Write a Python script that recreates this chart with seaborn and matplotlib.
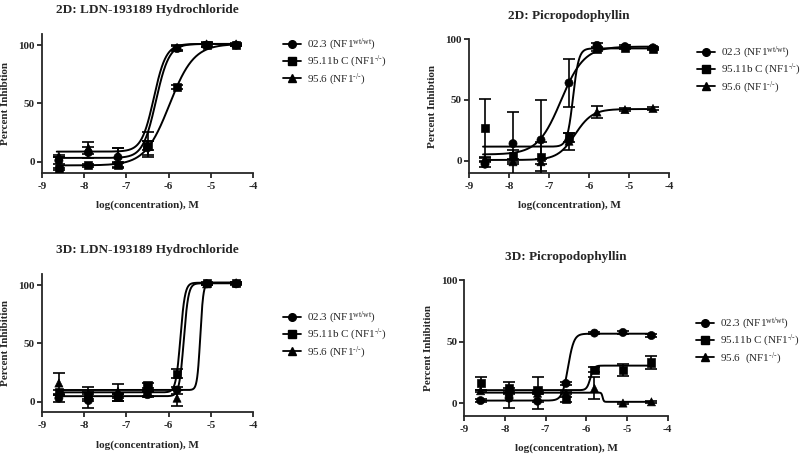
import numpy as np
import pandas as pd
import matplotlib
matplotlib.use("Agg")
import matplotlib.pyplot as plt
from matplotlib.lines import Line2D
import seaborn as sns

# ---------------- data ----------------
log_conc = [-8.6, -7.9, -7.2, -6.5, -5.8, -5.1, -4.4]
series_names = ["02.3", "95.11b C", "95.6"]

# Panel A: 2D LDN-193189 Hydrochloride
a_circle = [1, 8, 4, 12, 97, 100, 100]
a_circle_err = [3, 5, 8, 6, 2, 2, 1]
a_square = [-6, -3, -3, 14, 64, 100, 100]
a_square_err = [1, 1, 2, 4, 2, 2, 1]
a_triangle = [5, 12, 6, 15, 98, 101, 101]
a_triangle_err = [1, 5, 6, 11, 2, 2, 1]
# fit parameters: bottom, top, logEC50, hill
a_fit_circle = [3.4, 101, -6.3, 2.8]
a_fit_square = [-3, 101, -5.98, 1.5]
a_fit_triangle = [8.8, 101, -6.35, 3.0]

# Panel B: 2D Picropodophyllin
b_circle = [-3, 14, 17, 64, 95, 94, 93]
b_circle_err = [2, 26, 33, 20, 2, 1, 1]
b_square = [27, 4, 3, 19, 92, 93, 92]
b_square_err = [24, 5, 12, 4, 2, 1, 1]
b_triangle = [1, -1, -1, 16, 40, 42, 43]
b_triangle_err = [1, 2, 2, 7, 5, 1, 1]
b_fit_circle = [5, 94, -6.7, 1.5]
b_fit_square = [11.5, 92.5, -6.4, 6]
b_fit_triangle = [0.5, 42.5, -6.35, 2.0]

# Panel C: 3D LDN-193189 Hydrochloride
c_circle = [3, 1, 4, 6, 10, 101, 101]
c_circle_err = [3, 6, 3, 2, 3, 1, 1]
c_square = [8, 5, 4, 14, 24, 102, 102]
c_square_err = [2, 3, 3, 2, 4, 1, 1]
c_triangle = [16, 7, 9, 7, 3, 101, 102]
c_triangle_err = [9, 6, 6, 2, 7, 1, 1]
c_fit_circle = [4.7, 101.5, -5.64, 8]
c_fit_square = [8, 102, -5.72, 8]
c_fit_triangle = [10, 102, -5.25, 12]

# Panel D: 3D Picropodophyllin
d_circle = [2, 4, 1.5, 16, 57, 57.5, 55]
d_circle_err = [1, 8, 6.5, 1, 1, 1, 1]
d_square = [16, 12, 11, 3, 27, 27, 33]
d_square_err = [5, 5, 10, 2, 2, 5, 5]
d_triangle = [10, 9, 8, 8, 12, 0, 1]
d_triangle_err = [1, 1, 1, 1, 9, 1, 1]
d_fit_circle = [2, 56.5, -6.45, 6]
d_fit_square = [10.5, 30.5, -5.9, 10]
d_fit_triangle = [8.5, 1, -5.6, 30]

titles = ["2D: LDN-193189 Hydrochloride", "2D: Picropodophyllin",
          "3D: LDN-193189 Hydrochloride", "3D: Picropodophyllin"]
ylabels = ["Percent Inhibtion", "Percent Inhibtion",
           "Percent Inhibition", "Percent Inhibition"]
xlabel = "log(concentration), M"
x_ticks = [-9, -8, -7, -6, -5, -4]
y_ticks = [0, 50, 100]

# ---------------- style ----------------
sns.set_theme(style="ticks")
plt.rcParams["font.family"] = ["Liberation Serif", "DejaVu Serif"]
plt.rcParams["mathtext.fontset"] = "custom"
plt.rcParams["mathtext.rm"] = "Liberation Serif"
plt.rcParams["mathtext.it"] = "Liberation Serif:italic"
plt.rcParams["mathtext.bf"] = "Liberation Serif:bold"
plt.rcParams["axes.linewidth"] = 1.3
plt.rcParams["xtick.major.width"] = 1.3
plt.rcParams["ytick.major.width"] = 1.3
plt.rcParams["xtick.major.size"] = 3.5
plt.rcParams["ytick.major.size"] = 3.5

W, H = 800, 454
fig = plt.figure(figsize=(8, 4.54), dpi=100)


def px_axes(x0, x1, ytop, ybot):
    return fig.add_axes([x0 / W, 1 - ybot / H, (x1 - x0) / W, (ybot - ytop) / H])


def logistic(x, p):
    b, t, ec, h = p
    return b + (t - b) / (1 + 10 ** ((ec - x) * h))


panels = [
    dict(ax=px_axes(42, 253, 34, 173), ylim=(-9.5, 109.5),
         vals=[a_circle, a_square, a_triangle],
         errs=[a_circle_err, a_square_err, a_triangle_err],
         fits=[a_fit_circle, a_fit_square, a_fit_triangle],
         leg=(283, 37), title_y=10, t95="95.6 "),
    dict(ax=px_axes(469, 669, 39.3, 172.7), ylim=(-10, 100),
         vals=[b_circle, b_square, b_triangle],
         errs=[b_circle_err, b_square_err, b_triangle_err],
         fits=[b_fit_circle, b_fit_square, b_fit_triangle],
         leg=(697, 45), title_y=16, t95="95.6 "),
    dict(ax=px_axes(42, 253, 274.3, 412.3), ylim=(-9.1, 109.2),
         vals=[c_circle, c_square, c_triangle],
         errs=[c_circle_err, c_square_err, c_triangle_err],
         fits=[c_fit_circle, c_fit_square, c_fit_triangle],
         leg=(283, 310), title_y=250, t95="95.6 "),
    dict(ax=px_axes(464.3, 667.7, 280.3, 415.7), ylim=(-10.3, 100),
         vals=[d_circle, d_square, d_triangle],
         errs=[d_circle_err, d_square_err, d_triangle_err],
         fits=[d_fit_circle, d_fit_square, d_fit_triangle],
         leg=(696, 316), title_y=257, t95="95.6  "),
]

markers = ["o", "s", "^"]
xs = np.linspace(-8.65, -4.4, 600)
hy = "\u2010"
sup_ko = r"$^{\mathrm{" + hy + "/" + hy + "}}$"
sup_wt = r"$^{\mathrm{wt/wt}}$"

for i, p in enumerate(panels):
    ax = p["ax"]
    # fitted curves
    rows = []
    for name, fp in zip(series_names, p["fits"]):
        for xv in xs:
            rows.append((name, xv, logistic(xv, fp)))
    curve_df = pd.DataFrame(rows, columns=["series", "x", "y"])
    sns.lineplot(data=curve_df, x="x", y="y", units="series", estimator=None,
                 color="black", linewidth=1.4, ax=ax, legend=False)
    # points with error bars
    for name, v, e, m in zip(series_names, p["vals"], p["errs"], markers):
        ax.errorbar(log_conc, v, yerr=e, fmt="none", ecolor="black",
                    elinewidth=1.2, capsize=4, capthick=1.2, zorder=3)
    pts = pd.DataFrame({
        "x": log_conc * 3,
        "y": p["vals"][0] + p["vals"][1] + p["vals"][2],
        "series": sum([[n] * len(log_conc) for n in series_names], []),
    })
    sns.scatterplot(data=pts, x="x", y="y", style="series",
                    markers=dict(zip(series_names, markers)),
                    color="black", edgecolor="black", s=34, ax=ax,
                    legend=False, zorder=4)

    ax.set_xlim(-9, -4)
    ax.set_ylim(*p["ylim"])
    ax.set_xticks(x_ticks)
    ax.set_yticks(y_ticks)
    ax.set_xticklabels([str(t) for t in x_ticks], fontsize=8, fontweight="bold")
    ax.set_yticklabels([str(t) for t in y_ticks], fontsize=8, fontweight="bold")
    ax.tick_params(axis="x", pad=3)
    ax.tick_params(axis="y", pad=1.5)
    ax.set_xlabel(xlabel, fontsize=8, fontweight="bold", labelpad=7)
    ax.set_ylabel(ylabels[i], fontsize=8, fontweight="bold", labelpad=6)
    sns.despine(ax=ax)

    bb = ax.get_position()
    fig.text((bb.x0 + bb.x1) / 2, 1 - p["title_y"] / H, titles[i],
             ha="center", va="center", fontsize=9.5, fontweight="bold")

    labels = ["02.3 (NF1" + sup_wt + ")",
              "95.11b C (NF1" + sup_ko + ")",
              p["t95"] + "(NF1" + sup_ko + ")"]
    handles = [Line2D([0], [0], color="black", lw=1.3, marker=m,
                      markersize=5.5) for m in markers]
    lx, ly = p["leg"]
    ax.legend(handles, labels, loc="upper left",
              bbox_to_anchor=(lx / W, 1 - ly / H), bbox_transform=fig.transFigure,
              frameon=False, fontsize=8, borderpad=0, borderaxespad=0,
              handlelength=1.6, handletextpad=0.6, labelspacing=0.1)

fig.savefig("out.png", dpi=100)
